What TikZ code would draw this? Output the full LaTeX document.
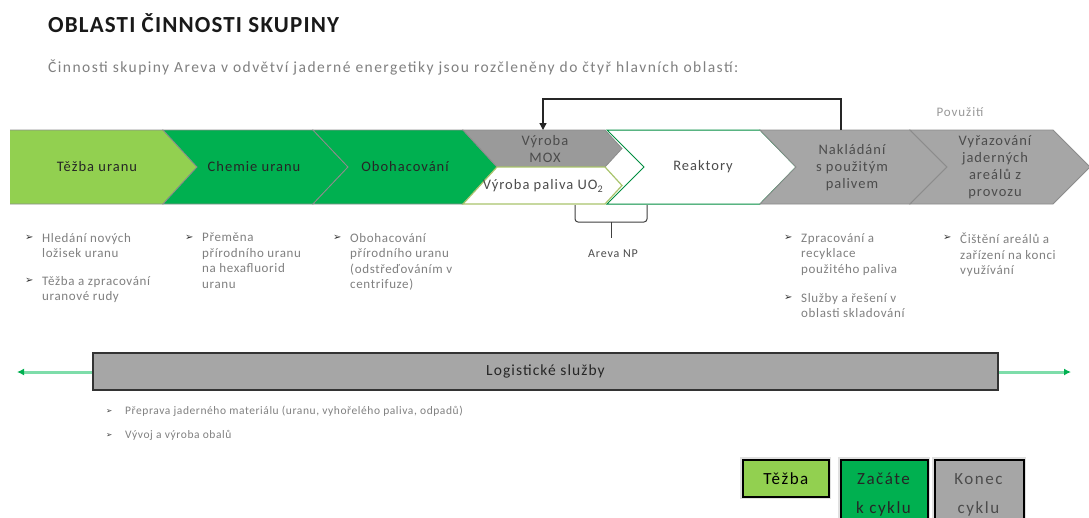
\documentclass[tikz,border=0pt]{standalone}
\usepackage{fontspec}
\setmainfont{Carlito}
\newfontfamily\dejavu{DejaVu Sans}
\newfontfamily\lsA[LetterSpace=7]{Carlito}
\newfontfamily\lsB[LetterSpace=5]{Carlito}
\newfontfamily\lsC[LetterSpace=9]{Carlito}
\newfontfamily\lsS[LetterSpace=9.5]{Carlito}
\newfontfamily\lsT[LetterSpace=5]{Carlito}
\usetikzlibrary{arrows.meta}
\definecolor{lgreen}{HTML}{92D050}
\definecolor{dgreen}{HTML}{00B050}
\definecolor{cgray}{HTML}{A6A6A6}
\definecolor{mgray}{HTML}{9A9A9A}
\definecolor{tgray}{HTML}{808080}
\definecolor{olivec}{HTML}{A9C46C}
\definecolor{edgec}{HTML}{8C8C8C}
\definecolor{arrowline}{HTML}{7EDDAA}
\tikzset{
  chev/.style={draw=edgec, line width=0.8pt},
  clabel/.style={align=center, inner sep=0pt, text=black!85, font=\lsA\fontsize{14.5}{17}\selectfont},
  glabel/.style={align=center, inner sep=0pt, text=black!70, font=\lsA\fontsize{14.5}{17}\selectfont},
  bmark/.style={inner sep=0pt, anchor=west, text=black!80, font=\dejavu\fontsize{10}{10}\selectfont},
  btext/.style={inner sep=0pt, anchor=north west, align=left, text=tgray, font=\lsB\fontsize{13}{15.5}\selectfont},
  lbtext/.style={inner sep=0pt, anchor=west, text=tgray, font=\lsB\fontsize{11.5}{13}\selectfont},
  legbox/.style={draw=black, line width=1.8pt, preaction={draw=black!12, line width=5pt}, inner sep=0pt},
  legtext/.style={inner sep=0pt, align=center, font=\lsC\fontsize{17}{29}\selectfont},
  fb/.style={draw=black!85, line width=1.3pt, -{Triangle[length=7pt,width=7pt]}},
  garrow/.style={draw=arrowline, line width=3pt, -{Latex[length=7pt,width=7pt,color=dgreen]}}
}
\begin{document}
\begin{tikzpicture}[x=1pt,y=-1pt]
\useasboundingbox (0,0) rectangle (1089,517);
\clip (0,0) rectangle (1089,517);
\fill[white] (0,0) rectangle (1089,517);

% title
\node[anchor=west, inner sep=0pt, font=\lsT\bfseries\fontsize{23}{27}\selectfont, text=black!90] (title) at (48,23) {OBLASTI ČINNOSTI SKUPINY};
\node[anchor=west, inner sep=0pt, font=\lsS\fontsize{15.5}{18}\selectfont, text=tgray] (sub) at (48,67) {Činnosti skupiny Areva v odvětví jaderné energetiky jsou rozčleněny do čtyř hlavních oblastí:};

% chevrons
\fill[lgreen] (10,130) -- (163,130) -- (197,167) -- (163,204) -- (10,204) -- cycle;
\draw[chev] (10,130) -- (163,130) -- (197,167) -- (163,204) -- (10,204);
\filldraw[chev, fill=dgreen] (163,130) -- (313,130) -- (348,167) -- (313,204) -- (163,204) -- (197,167) -- cycle;
\filldraw[chev, fill=dgreen] (313,130) -- (463,130) -- (497,167) -- (463,204) -- (313,204) -- (348,167) -- cycle;
\filldraw[chev, fill=mgray] (463,130) -- (605,130) -- (622,148.5) -- (605,167) -- (497,167) -- cycle;
\filldraw[draw=olivec, line width=1.2pt, fill=white] (497,167) -- (605,167) -- (622,185.5) -- (605,204) -- (463,204) -- cycle;
\filldraw[draw=dgreen!80!black, line width=1pt, fill=white] (607,130) -- (760,130) -- (796,167) -- (760,204) -- (607,204) -- (644,167) -- cycle;
\filldraw[chev, fill=cgray] (760,130) -- (910,130) -- (947,167) -- (910,204) -- (760,204) -- (796,167) -- cycle;
\filldraw[chev, fill=cgray] (910,130) -- (1053,130) -- (1090,167) -- (1053,204) -- (910,204) -- (947,167) -- cycle;

\node[clabel] (tezba) at (97,167) {Těžba uranu};
\node[clabel] (chemie) at (254,167) {Chemie uranu};
\node[clabel] (oboh) at (405,167) {Obohacování};
\node[glabel] (mox) at (545,149) {Výroba\\MOX};
\node[glabel] (uo2) at (543,186) {Výroba paliva UO\textsubscript{2}};
\node[glabel] (reak) at (703,167) {Reaktory};
\node[glabel] (nakl) at (852,168) {Nakládání\\s použitým\\palivem};
\node[glabel] (vyraz) at (995,167) {Vyřazování\\jaderných\\areálů z\\provozu};
\node[inner sep=0pt, text=black!40, font=\lsA\fontsize{13}{15}\selectfont] (pouz) at (960,112) {Povužití};

% feedback arrow
\coordinate (nakTop) at (841,130);
\coordinate (moxTop) at (543,130);
\draw[fb] (nakTop) -- (841,99) -- (543,99) -- (moxTop);

% brace Areva NP
\coordinate (brL) at (575,205);
\coordinate (brR) at (647,205);
\node[inner sep=0pt, text=black!70, font=\lsA\fontsize{12}{14}\selectfont] (areva) at (613,254) {Areva NP};
\draw[black!75, line width=1pt, rounded corners=3pt] (brL) -- (575,222) -- (647,222) -- (brR);
\draw[black!75, line width=1pt] (611,222) -- (611,238);

% bullets column 1
\node[bmark] (m11) at (25,238) {➢};
\node[btext] (b11) at (42,233) {Hledání nových\\ložisek uranu};
\node[bmark] (m12) at (25,281) {➢};
\node[btext] (b12) at (42,276) {Těžba a zpracování\\uranové rudy};
% column 2
\node[bmark] (m21) at (185,238) {➢};
\node[btext] (b21) at (202,233) {Přeměna\\přírodního uranu\\na hexafluorid\\uranu};
% column 3
\node[bmark] (m31) at (333,238) {➢};
\node[btext] (b31) at (350,233) {Obohacování\\přírodního uranu\\(odstřeďováním v\\centrifuze)};
% column 4
\node[bmark] (m41) at (784,238) {➢};
\node[btext] (b41) at (801,233) {Zpracování a\\recyklace\\použitého paliva};
\node[bmark] (m42) at (784,298) {➢};
\node[btext] (b42) at (801,293) {Služby a řešení v\\oblasti skladování};
% column 5
\node[bmark] (m51) at (943,238) {➢};
\node[btext] (b51) at (960,233) {Čištění areálů a\\zařízení na konci\\využívání};

% logistics
\node[draw=black!80, line width=2pt, fill=cgray, minimum width=905pt, minimum height=37pt, inner sep=0pt, font=\lsA\fontsize{15.5}{18}\selectfont, text=black!85] (log) at (545.5,371) {Logistické služby};
\coordinate (gl) at (17,372);
\coordinate (gr) at (1071,372);
\draw[garrow] (log.west |- gl) -- (gl);
\draw[garrow] (log.east |- gr) -- (gr);

\node[bmark, font=\dejavu\fontsize{7.5}{8}\selectfont] (lm1) at (106,411) {➢};
\node[lbtext] (lb1) at (125,411) {Přeprava jaderného materiálu (uranu, vyhořelého paliva, odpadů)};
\node[bmark, font=\dejavu\fontsize{7.5}{8}\selectfont] (lm2) at (106,435) {➢};
\node[lbtext] (lb2) at (125,435) {Vývoj a výroba obalů};

% legend
\node[legbox, fill=lgreen, minimum width=86pt, minimum height=37pt, anchor=north west] (legT) at (742,459) {};
\node[legtext] at (legT.center) {Těžba};
\node[legbox, fill=dgreen, minimum width=87pt, minimum height=70pt, anchor=north west] (legZ) at (840,459) {};
\node[legtext, anchor=north, text=black!85] at (883.5,473) {Začáte\\k cyklu};
\node[legbox, fill=cgray, minimum width=89pt, minimum height=70pt, anchor=north west] (legK) at (934,459) {};
\node[legtext, anchor=north, text=black!70] at (978.5,473) {Konec\\cyklu};
\end{tikzpicture}
\end{document}
